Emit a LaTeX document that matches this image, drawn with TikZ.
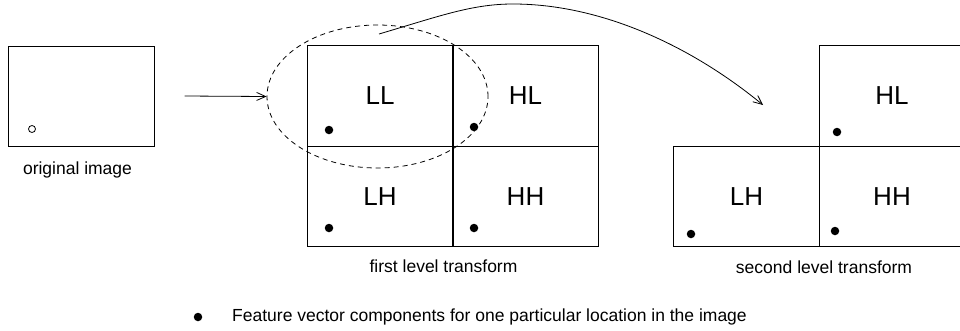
\documentclass[tikz,border=0pt]{standalone}
\usepackage{fontspec}
\setmainfont{Liberation Sans}
\usetikzlibrary{arrows.meta,shapes.geometric}

\newcommand{\labfont}{\fontsize{26}{30}\selectfont}
\newcommand{\capfont}{\fontsize{17.5}{21}\selectfont}

\tikzset{
  cell/.style={draw, line width=1pt, rectangle, minimum width=146pt,
               minimum height=100.5pt, inner sep=0pt, font=\labfont},
  picbox/.style={draw, line width=1pt, rectangle, minimum width=146pt,
               minimum height=100pt, inner sep=0pt},
  featdot/.style={circle, fill=black, inner sep=0pt, minimum size=8.5pt},
  capt/.style={inner sep=0pt, font=\capfont},
  arr/.style={line width=0.8pt, -{Straight Barb[length=9pt,width=8pt,line width=0.8pt]}},
  region/.style={draw, ellipse, dash pattern=on 5pt off 4pt, line width=0.8pt,
                 minimum width=221pt, minimum height=143pt, inner sep=0pt}
}

\begin{document}
\begin{tikzpicture}[x=1pt, y=-1pt]
  \useasboundingbox (0,0) rectangle (960,330);

  % original image
  \node[picbox] (orig) at (81,96) {};
  \node[circle, draw, line width=0.8pt, inner sep=0pt, minimum size=7pt] (loc) at (32,129) {};
  \node[capt] (origcap) at (77.5,170) {original image};

  % first level transform
  \node[cell] (ll) at (380,96)    {LL};
  \node[cell] (hl) at (525.5,96)  {HL};
  \node[cell] (lh) at (380,196.5) {LH};
  \node[cell] (hh) at (525.5,196.5) {HH};
  \node[featdot] (dll) at (329,130) {};
  \node[featdot] (dhl) at (474,127) {};
  \node[featdot] (dlh) at (329,228) {};
  \node[featdot] (dhh) at (474,228) {};
  \node[capt] (firstcap) at (443.5,266) {first level transform};

  % region of the LL band that is decomposed again
  \node[region] (ell) at (377.5,96.5) {};

  % second level transform
  \node[cell] (lh2) at (746.5,196.5) {LH};
  \node[cell] (hl2) at (892,96)      {HL};
  \node[cell] (hh2) at (892,196.5)   {HH};
  \node[featdot] (dhl2) at (837,132) {};
  \node[featdot] (dlh2) at (691,234) {};
  \node[featdot] (dhh2) at (835,231) {};
  \node[capt] (secondcap) at (824,267) {second level transform};

  % connectors
  \coordinate (tail) at ([xshift=30pt]orig.east);
  \draw[arr] (tail) -- (ell.west);

  \coordinate (cstart) at (379,34);
  \coordinate (cpeak) at (513,4);
  \coordinate (cend) at (763,105);
  \draw[arr] (cstart) .. controls (440,16) and (472,4) .. (cpeak)
             .. controls (600,4) and (690,45) .. (cend);

  % legend
  \node[featdot] (legdot) at (198,317) {};
  \node[capt, anchor=west] (legtext) at (232,317)
    {Feature vector components for one particular location in the image};
\end{tikzpicture}
\end{document}
